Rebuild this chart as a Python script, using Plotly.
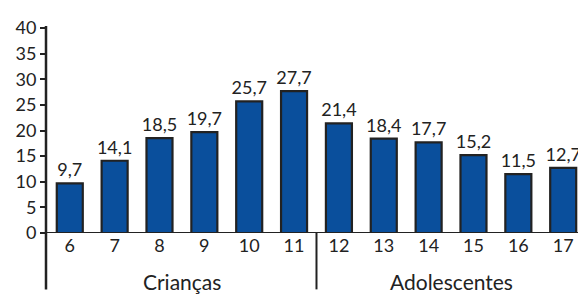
import plotly.graph_objects as go

ages = ["6", "7", "8", "9", "10", "11", "12", "13", "14", "15", "16", "17"]
values = [9.7, 14.1, 18.5, 19.7, 25.7, 27.7, 21.4, 18.4, 17.7, 15.2, 11.5, 12.7]
groups = ["Crianças", "Adolescentes"]
y_ticks = [0, 5, 10, 15, 20, 25, 30, 35, 40]

labels = [f"{v:.1f}".replace(".", ",") for v in values]
FONT = "Lato, 'Open Sans', sans-serif"
TXT = "#222222"

fig = go.Figure(go.Bar(
    x=list(range(len(ages))), y=values,
    marker=dict(color="#0a4f9c", line=dict(color="#222222", width=2.2)),
    width=0.58,
    text=labels, textposition="outside", cliponaxis=False,
    constraintext="none",
    textfont=dict(family=FONT, size=18, color=TXT),
))

# page body has an 8px margin; compensate so the plot sits where the reference does
fig.update_layout(
    width=578, height=286,
    margin=dict(l=34, r=8, t=11, b=61),
    paper_bgcolor="white", plot_bgcolor="white",
    showlegend=False,
    font=dict(family=FONT, color=TXT),
)
fig.update_xaxes(
    range=[-0.53, 11.33], tickmode="array",
    tickvals=list(range(len(ages))), ticktext=ages,
    showgrid=False, zeroline=False, showline=False, ticks="",
    tickfont=dict(family=FONT, size=18, color=TXT),
)
fig.update_yaxes(
    range=[0, 40], tickmode="array", tickvals=y_ticks,
    ticktext=[str(t) for t in y_ticks],
    showgrid=False, zeroline=False, showline=False,
    ticks="outside", ticklen=5, tickwidth=2, tickcolor="#222222",
    ticklabeloverflow="allow",
    tickfont=dict(family=FONT, size=18, color=TXT),
)

# axes lines
fig.add_shape(type="line", xref="paper", yref="paper", x0=0, x1=0, y0=-0.275, y1=1.01,
              line=dict(color="#222222", width=2.5))
fig.add_shape(type="line", xref="paper", yref="y", x0=0, x1=1, y0=0, y1=0,
              line=dict(color="#222222", width=2.2))
# group separator
fig.add_shape(type="line", xref="x", yref="paper", x0=5.5, x1=5.5, y0=-0.275, y1=0,
              line=dict(color="#222222", width=2))

fig.add_annotation(x=2.5, xref="x", y=-0.235, yref="paper", text=groups[0],
                   showarrow=False, yanchor="middle",
                   font=dict(family=FONT, size=21, color=TXT))
fig.add_annotation(x=8.5, xref="x", y=-0.235, yref="paper", text=groups[1],
                   showarrow=False, yanchor="middle",
                   font=dict(family=FONT, size=21, color=TXT))

fig.write_html("out.html")
